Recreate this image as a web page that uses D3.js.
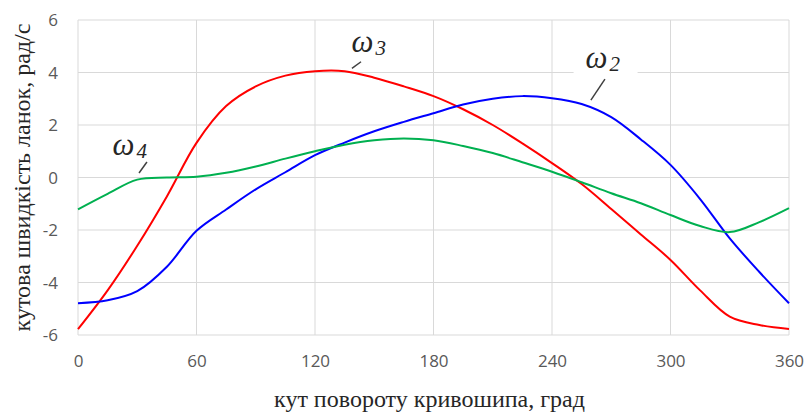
<!DOCTYPE html>
<html>
<head>
<meta charset="utf-8">
<script src="https://cdn.jsdelivr.net/npm/d3@7"></script>
<style>
  body { margin: 0; background: #fff; }
  svg { display: block; }
  .tick text { font-family: "Liberation Sans Narrow", "Open Sans", Arial, sans-serif; font-size: 17px; fill: #595959; }
  .grid line { stroke: #d9d9d9; stroke-width: 1; }
  .title { font-family: "Liberation Serif", "Times New Roman", serif; font-size: 24px; fill: #262626; }
  .omega { font-family: "Liberation Serif", "Times New Roman", serif; font-style: italic; fill: #262626; }
  .line { fill: none; stroke-width: 2; }
</style>
</head>
<body>
<svg id="chart" width="809" height="414"></svg>
<script>
// crank angle, degrees
const angles = [0, 15, 30, 45, 60, 75, 90, 105, 120, 135, 150, 165, 180,
  195, 210, 225, 240, 255, 270, 285, 300, 315, 330, 345, 360];
// angular speeds, rad/s
const omega2 = [-4.79, -4.68, -4.33, -3.4, -2.03, -1.22, -0.45, 0.2, 0.85, 1.33, 1.76, 2.12, 2.45,
  2.78, 3.0, 3.1, 3.02, 2.8, 2.3, 1.45, 0.48, -0.82, -2.32, -3.6, -4.79];
const omega3 = [-5.78, -4.3, -2.6, -0.72, 1.32, 2.72, 3.47, 3.88, 4.05, 4.05, 3.8, 3.47, 3.1,
  2.6, 2.0, 1.3, 0.55, -0.25, -1.2, -2.17, -3.14, -4.3, -5.3, -5.62, -5.77];
const omega4 = [-1.21, -0.62, -0.08, 0.0, 0.03, 0.18, 0.42, 0.72, 1.0, 1.25, 1.42, 1.49, 1.42,
  1.2, 0.93, 0.58, 0.22, -0.18, -0.6, -0.98, -1.43, -1.85, -2.08, -1.7, -1.17];

const xTicks = [0, 60, 120, 180, 240, 300, 360];
const yTicks = [-6, -4, -2, 0, 2, 4, 6];

// label text position and leader line ends, in chart units (angle, speed)
const notes = [
  { sub: "3", text: [138.5, 4.8], from: [138.7, 4.16], to: [143.3, 4.41], bg: false },
  { sub: "2", text: [257, 4.17], from: [259.7, 2.95], to: [266.8, 3.75], bg: true },
  { sub: "4", text: [17.5, 0.86], from: [30.9, 0.17], to: [34.9, 0.59], bg: false },
];

const svg = d3.select("#chart");
const m = { left: 78, right: 20, top: 20, bottom: 79 };
const W = 809, H = 414;

const x = d3.scaleLinear().domain([0, 360]).range([m.left, W - m.right]);
const y = d3.scaleLinear().domain([-6, 6]).range([H - m.bottom, m.top]);

// gridlines
const grid = svg.append("g").attr("class", "grid");
grid.selectAll("line.h").data(yTicks).join("line").attr("class", "h")
  .attr("x1", x(0)).attr("x2", x(360)).attr("y1", (d) => y(d)).attr("y2", (d) => y(d))
  .attr("stroke", (d) => d === 0 ? "#bfbfbf" : null);
grid.selectAll("line.v").data(xTicks).join("line").attr("class", "v")
  .attr("x1", (d) => x(d)).attr("x2", (d) => x(d)).attr("y1", y(6)).attr("y2", y(-6));

// axes (labels only)
const ax = svg.append("g").attr("transform", `translate(0,${y(-6) + 20})`)
  .call(d3.axisBottom(x).tickValues(xTicks).tickSize(0).tickPadding(0).tickFormat((d) => String(d)));
ax.select(".domain").remove();
const ay = svg.append("g").attr("transform", `translate(${m.left - 20},0)`)
  .call(d3.axisLeft(y).tickValues(yTicks).tickSize(0).tickPadding(0).tickFormat((d) => String(d)));
ay.select(".domain").remove();
ay.selectAll(".tick text").attr("dy", "0.35em");

svg.append("text").attr("class", "title").attr("text-anchor", "middle")
  .attr("x", (x(0) + x(360)) / 2 - 4).attr("y", 407).text("кут повороту кривошипа, град");
svg.append("text").attr("class", "title").attr("text-anchor", "middle")
  .attr("transform", `translate(30,${(y(6) + y(-6)) / 2}) rotate(-90)`)
  .text("кутова швидкість ланок, рад/с");

// white box behind the ω2 label
notes.filter((n) => n.bg).forEach((n) => {
  svg.append("rect").attr("x", x(n.text[0]) - 12).attr("y", y(n.text[1]) - 20)
    .attr("width", 64).attr("height", 32).attr("fill", "#fff");
});

const series = [
  { values: omega3, color: "#ff0000" },
  { values: omega2, color: "#0000ff" },
  { values: omega4, color: "#00b050" },
];
const lineGen = d3.line().x((d) => x(d[0])).y((d) => y(d[1])).curve(d3.curveCatmullRom.alpha(0.5));
series.forEach((s) => {
  svg.append("path").datum(angles.map((a, i) => [a, s.values[i]]))
    .attr("class", "line").attr("stroke", s.color).attr("d", lineGen);
});

// annotations
notes.forEach((n) => {
  svg.append("line").attr("x1", x(n.from[0])).attr("y1", y(n.from[1]))
    .attr("x2", x(n.to[0])).attr("y2", y(n.to[1]))
    .attr("stroke", "#404040").attr("stroke-width", 1.5);
  const t = svg.append("text").attr("class", "omega").attr("x", x(n.text[0])).attr("y", y(n.text[1]));
  t.append("tspan").attr("font-size", 31).text("ω");
  t.append("tspan").attr("font-size", 21).attr("dy", 3).attr("dx", 2).text(n.sub);
});
</script>
</body>
</html>
